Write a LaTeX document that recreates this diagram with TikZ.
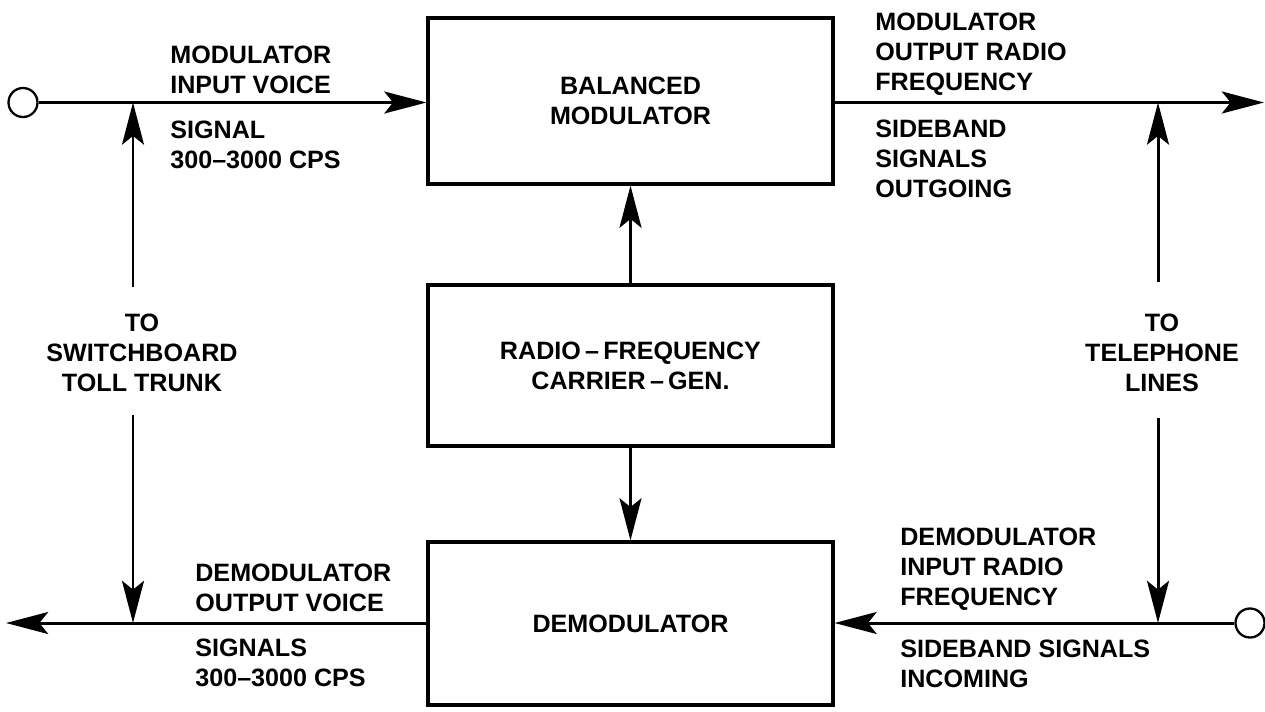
\documentclass[tikz,border=0pt]{standalone}
\usepackage{fontspec}
\setmainfont{Liberation Sans}
\usetikzlibrary{arrows.meta}

\tikzset{
  blk/.style={draw, line width=1.8pt, minimum width=8.1cm, align=center, inner sep=0pt},
  lbl/.style={anchor=west, align=left, inner sep=0pt},
  sig/.style={line width=1.7pt, -{Stealth[length=24pt,width=12.5pt,inset=5pt]}},
  jack/.style={draw, circle, line width=1.3pt, minimum size=0.58cm, inner sep=0pt},
}

\begin{document}
\begin{tikzpicture}[x=0.02cm, y=-0.02cm, font={\fontsize{14.3}{17}\selectfont\bfseries}]
\fill[white] (0,0) rectangle (1265,711);
\useasboundingbox (0,0) rectangle (1265,711);

% the three blocks
\node[blk, minimum height=3.32cm] (mod) at (630.5,101) {BALANCED\\MODULATOR};
\node[blk, minimum height=3.22cm] (gen) at (630.5,365.5) {RADIO\,–\,FREQUENCY\\CARRIER\,–\,GEN.};
\node[blk, minimum height=3.26cm] (dem) at (630.5,623.5) {DEMODULATOR};

% terminals and free ends
\node[jack] (inJ) at (23,102.5) {};
\node[jack] (outJ) at (1250,623) {};
\coordinate (outEnd) at (1264,102.5);
\coordinate (dmEnd) at (6,623);

% taps to switchboard and telephone lines
\coordinate (swIn) at (133,102.5);
\coordinate (swOut) at (133,623);
\coordinate (swA) at (133,287);
\coordinate (swB) at (133,415);
\coordinate (telOut) at (1158,102.5);
\coordinate (telIn) at (1158,623);
\coordinate (telA) at (1158,282);
\coordinate (telB) at (1158,418);

\draw[sig] (inJ) -- (inJ -| mod.west);
\draw[sig] (outEnd -| mod.east) -- (outEnd);
\draw[sig] (outJ) -- (outJ -| dem.east);
\draw[sig] (dmEnd -| dem.west) -- (dmEnd);
\draw[sig] (gen.north) -- (mod.south);
\draw[sig] (gen.south) -- (dem.north);
\draw[sig] (swA) -- (swIn);
\draw[sig] (swB) -- (swOut);
\draw[sig] (telA) -- (telOut);
\draw[sig] (telB) -- (telIn);

% line labels
\node[lbl] (inTop) at (170,70) {MODULATOR\\INPUT VOICE};
\node[lbl] (inBot) at (170,145) {SIGNAL\\300–3000 CPS};
\node[lbl] (outTop) at (875,54) {MODULATOR\\OUTPUT RADIO\\FREQUENCY};
\node[lbl] (outBot) at (875,159) {SIDEBAND\\SIGNALS\\OUTGOING};
\node[lbl] (dmTop) at (195,588) {DEMODULATOR\\OUTPUT VOICE};
\node[lbl] (dmBot) at (195,663) {SIGNALS\\300–3000 CPS};
\node[lbl] (dinTop) at (900,569) {DEMODULATOR\\INPUT RADIO\\FREQUENCY};
\node[lbl] (dinBot) at (900,664) {SIDEBAND SIGNALS\\INCOMING};
\node[align=center] (sw) at (142,353) {TO\\SWITCHBOARD\\TOLL TRUNK};
\node[align=center] (tel) at (1162,353) {TO\\TELEPHONE\\LINES};
\end{tikzpicture}
\end{document}
